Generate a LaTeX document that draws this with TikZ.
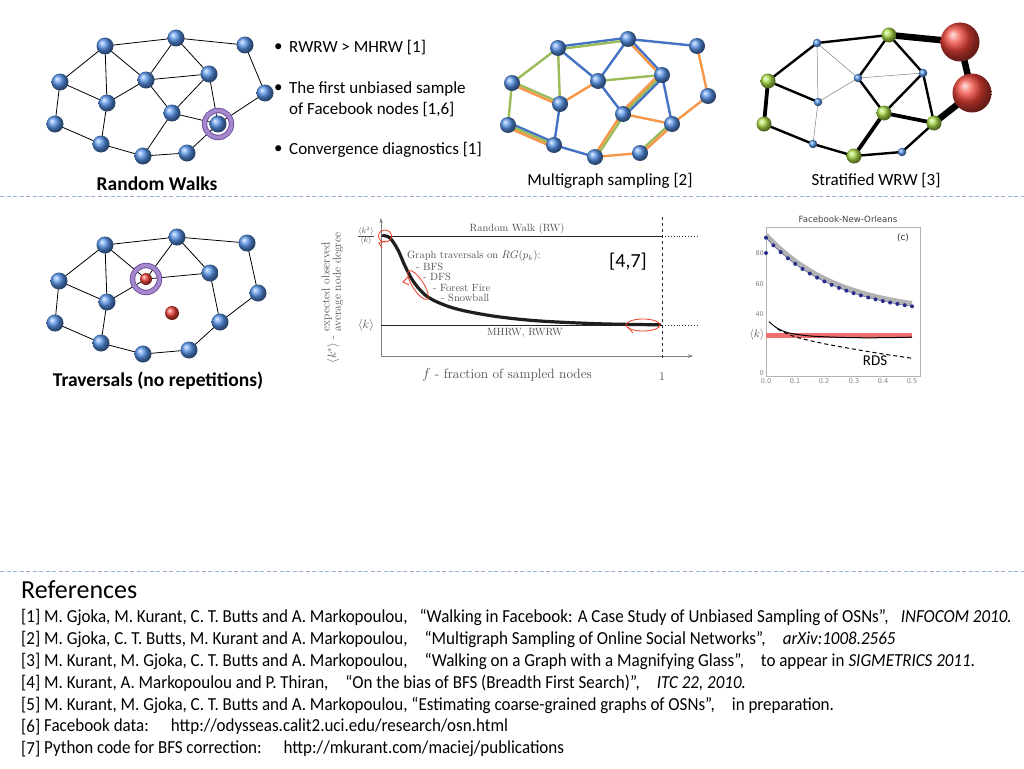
\documentclass[tikz,border=0pt]{standalone}
\usepackage{fontspec}
\newfontfamily\calib{Carlito}
\newfontfamily\dejavu{DejaVu Sans}
\usetikzlibrary{arrows.meta,calc,backgrounds}
\definecolor{nodeblue}{RGB}{85,145,230}
\definecolor{nodegreen}{RGB}{170,220,70}
\definecolor{nodered}{RGB}{235,65,55}
\definecolor{mgblue}{RGB}{68,114,196}
\definecolor{mggreen}{RGB}{155,187,89}
\definecolor{mgorange}{RGB}{247,150,70}
\definecolor{ringdark}{RGB}{110,80,155}
\definecolor{ringlight}{RGB}{165,135,205}
\definecolor{sepcol}{RGB}{150,175,205}
\definecolor{plotgray}{RGB}{80,80,80}
\definecolor{annred}{RGB}{235,60,35}
\definecolor{dotblue}{RGB}{40,45,140}
\definecolor{bandred}{RGB}{240,110,110}
\definecolor{bandgray}{RGB}{178,178,178}
\newcommand{\mge}[4]{\draw[mgline,#3] ($(#1.center)!#4!90:(#2.center)$) -- ($(#2.center)!#4!-90:(#1.center)$);}
\newcommand{\tall}[1]{\scalebox{1}[1.08]{#1}}
\newcommand{\gapA}{\hspace{12pt}}
\newcommand{\gapB}{\hspace{17pt}}
\newcommand{\gapC}{\hspace{22pt}}
\begin{document}
\begin{tikzpicture}[x=1pt,y=-1pt,
  bn/.style={circle,inner sep=0pt,minimum size=17pt,ball color=nodeblue},
  mn/.style={circle,inner sep=0pt,minimum size=16pt,ball color=nodeblue},
  sb/.style={circle,inner sep=0pt,minimum size=8.5pt,ball color=nodeblue},
  sg/.style={circle,inner sep=0pt,minimum size=15pt,ball color=nodegreen},
  sr/.style={circle,inner sep=0pt,minimum size=39pt,ball color=nodered},
  rn/.style={circle,inner sep=0pt,minimum size=#1,ball color=nodered},
  ringnode/.style={circle,inner sep=0pt,minimum size=27pt,draw=ringdark,line width=0.9pt,double=ringlight,double distance=3.6pt},
  ge/.style={black,line width=0.8pt},
  mgline/.style={line width=2.4pt},
  sthin/.style={gray,line width=0.5pt},
  smed/.style={black,line width=2.4pt},
  sthick/.style={black,line width=3.8pt},
  svthick/.style={black,line width=6.5pt},
  sepline/.style={sepcol,line width=1pt,dash pattern=on 4pt off 2.5pt},
  headtxt/.style={font=\calib\bfseries\fontsize{19.5}{22}\selectfont},
  captxt/.style={font=\calib\fontsize{17}{20}\selectfont},
  bultxt/.style={anchor=west,inner sep=0pt,font=\calib\fontsize{17}{20}\selectfont},
  reftxt/.style={anchor=west,inner sep=0pt,font=\calib\fontsize{17}{19}\selectfont},
  ptxt/.style={plotgray,inner sep=0pt},
  anno/.style={annred,line width=0.8pt},
  ticklab/.style={gray,inner sep=0pt,font=\dejavu\fontsize{6.5}{7}\selectfont}
]
\useasboundingbox (0,0) rectangle (1024,768);
\begin{scope}[on background layer]
\fill[white] (0,0) rectangle (1024,768);
\end{scope}

% separators
\draw[sepline] (0,196) -- (1024,196);
\draw[sepline] (0,571) -- (1024,571);

% ---------- Random walks graph ----------
\node[bn] (a1) at (105,46) {};
\node[bn] (b1) at (176,38) {};
\node[bn] (c1) at (245,45) {};
\node[bn] (d1) at (60,82) {};
\node[bn] (e1) at (146,80) {};
\node[bn] (f1) at (209,74) {};
\node[bn] (g1) at (107,103) {};
\node[bn] (h1) at (265,93) {};
\node[bn] (i1) at (172,113) {};
\node[bn] (j1) at (55,124) {};
\node[bn] (k1) at (218,124) {};
\node[bn] (l1) at (101,144) {};
\node[bn] (m1) at (143,156) {};
\node[bn] (n1) at (187,153) {};
\node[ringnode] (r1) at (k1) {};
\begin{scope}[on background layer]
\foreach \u/\v in {a1/b1,b1/c1,a1/d1,a1/g1,a1/e1,b1/e1,b1/f1,e1/f1,g1/e1,d1/g1,d1/j1,j1/l1,l1/g1,l1/m1,m1/i1,m1/n1,n1/k1,i1/k1,e1/i1,i1/f1,f1/k1,k1/h1,h1/c1}
  \draw[ge] (\u.center) -- (\v.center);
\end{scope}
\node[headtxt] (t1) at (157,184) {Random Walks};

% ---------- bullets ----------
\node[bultxt] (bl1) at (274,48) {•};
\node[bultxt] (bt1) at (289,48) {RWRW > MHRW [1]};
\node[bultxt] (bl2) at (274,89) {•};
\node[bultxt] (bt2) at (289,89) {The first unbiased sample};
\node[bultxt] (bt2b) at (289,110) {of Facebook nodes [1,6]};
\node[bultxt] (bl3) at (274,150) {•};
\node[bultxt] (bt3) at (289,150) {Convergence diagnostics [1]};

% ---------- Multigraph ----------
\node[mn] (a2) at (558,48) {};
\node[mn] (b2) at (628,39) {};
\node[mn] (c2) at (697,46) {};
\node[mn] (d2) at (512,83) {};
\node[mn] (e2) at (598,81) {};
\node[mn] (f2) at (662,75) {};
\node[mn] (g2) at (560,104) {};
\node[mn] (h2) at (708,96) {};
\node[mn] (i2) at (623,114) {};
\node[mn] (j2) at (508,125) {};
\node[mn] (k2) at (672,124) {};
\node[mn] (l2) at (554,145) {};
\node[mn] (m2) at (595,157) {};
\node[mn] (n2) at (640,153) {};
\begin{scope}[on background layer]
\mge{a2}{b2}{mgblue}{1.3pt}
\mge{a2}{b2}{mggreen}{-1.3pt}
\mge{b2}{c2}{mgblue}{0pt}
\mge{d2}{a2}{mggreen}{0pt}
\mge{a2}{g2}{mggreen}{0pt}
\mge{a2}{e2}{mgblue}{0pt}
\mge{b2}{e2}{mgblue}{0pt}
\mge{b2}{f2}{mgblue}{1.3pt}
\mge{b2}{f2}{mgorange}{-1.3pt}
\mge{e2}{f2}{mggreen}{0pt}
\mge{d2}{g2}{mggreen}{1.3pt}
\mge{d2}{g2}{mgorange}{-1.3pt}
\mge{g2}{e2}{mgorange}{0pt}
\mge{d2}{j2}{mggreen}{0pt}
\mge{j2}{l2}{mgblue}{2.4pt}
\mge{j2}{l2}{mggreen}{0pt}
\mge{j2}{l2}{mgorange}{-2.4pt}
\mge{g2}{l2}{mgblue}{0pt}
\mge{l2}{m2}{mgblue}{0pt}
\mge{m2}{i2}{mgorange}{1.3pt}
\mge{m2}{i2}{mggreen}{-1.3pt}
\mge{i2}{e2}{mgblue}{0pt}
\mge{i2}{f2}{mgblue}{-2.4pt}
\mge{i2}{f2}{mggreen}{0pt}
\mge{i2}{f2}{mgorange}{2.4pt}
\mge{f2}{k2}{mgblue}{0pt}
\mge{i2}{k2}{mgorange}{0pt}
\mge{m2}{n2}{mgorange}{0pt}
\mge{n2}{k2}{mggreen}{1.3pt}
\mge{n2}{k2}{mgorange}{-1.3pt}
\mge{k2}{h2}{mgorange}{0pt}
\mge{h2}{c2}{mgorange}{0pt}
\end{scope}
\node[captxt] (t2) at (610,181) {Multigraph sampling [2]};

% ---------- Stratified WRW ----------
\node[sb] (a3) at (817,43) {};
\node[sg] (b3) at (889,35) {};
\node[sr] (r3) at (960,42) {};
\node[sg] (c3) at (768,81) {};
\node[sb] (d3) at (858,78) {};
\node[sb] (e3) at (923,73) {};
\node[sr] (s3) at (972,93) {};
\node[sb] (f3) at (818,102) {};
\node[sg] (g3) at (884,113) {};
\node[sg] (h3) at (764,124) {};
\node[sg] (i3) at (934,123) {};
\node[sb] (j3) at (813,144) {};
\node[sg] (k3) at (854,156) {};
\node[sb] (l3) at (902,152) {};
\begin{scope}[on background layer]
\draw[sthin] (a3.center) -- (f3.center);
\draw[sthin] (a3.center) -- (d3.center);
\draw[sthin] (d3.center) -- (e3.center);
\draw[sthin] (f3.center) -- (d3.center);
\draw[sthin] (f3.center) -- (j3.center);
\draw[smed] (a3.center) -- (b3.center);
\draw[smed] (a3.center) -- (c3.center);
\draw[smed] (d3.center) -- (b3.center);
\draw[smed] (b3.center) -- (e3.center);
\draw[smed] (d3.center) -- (g3.center);
\draw[smed] (e3.center) -- (g3.center);
\draw[smed] (e3.center) -- (i3.center);
\draw[smed] (c3.center) -- (f3.center);
\draw[smed] (h3.center) -- (j3.center);
\draw[smed] (j3.center) -- (k3.center);
\draw[smed] (k3.center) -- (l3.center);
\draw[smed] (l3.center) -- (i3.center);
\draw[sthick] (g3.center) -- (i3.center);
\draw[sthick] (c3.center) -- (h3.center);
\draw[sthick] (k3.center) -- (g3.center);
\draw[svthick] (b3.center) -- (r3.center);
\draw[svthick] (r3.center) -- (s3.center);
\draw[svthick] (s3.center) -- (i3.center);
\end{scope}
\node[captxt] (t3) at (876,181) {Stratified WRW [3]};

% ---------- Traversals graph ----------
\node[bn] (a4) at (105,245) {};
\node[bn] (b4) at (177,237) {};
\node[bn] (c4) at (247,243) {};
\node[bn] (d4) at (59,281) {};
\node[rn=12pt] (e4) at (146,279) {};
\node[bn] (f4) at (210,273) {};
\node[bn] (g4) at (107,302) {};
\node[bn] (h4) at (258,293) {};
\node[rn=14pt] (i4) at (172,313) {};
\node[bn] (j4) at (55,323) {};
\node[bn] (k4) at (220,322) {};
\node[bn] (l4) at (101,343) {};
\node[bn] (m4) at (143,354) {};
\node[bn] (n4) at (189,350) {};
\node[ringnode] (r4) at (e4) {};
\begin{scope}[on background layer]
\foreach \u/\v in {a4/b4,b4/c4,a4/d4,a4/g4,a4/e4,b4/e4,b4/f4,e4/f4,e4/g4,d4/g4,d4/j4,j4/l4,l4/g4,l4/m4,m4/n4,n4/k4,k4/f4,k4/h4,h4/c4}
  \draw[ge] (\u.center) -- (\v.center);
\end{scope}
\node[headtxt] (t4) at (158,381) {Traversals (no repetitions)};

% ---------- Middle plot ----------
\coordinate (o) at (381,356);
\coordinate (ytop) at (381,218);
\coordinate (xend) at (693,356);
\draw[gray,line width=0.6pt,-{Stealth[length=5pt,width=3.5pt]}] (o) -- (ytop);
\draw[gray,line width=0.6pt,-{Stealth[length=5pt,width=3.5pt]}] (o) -- (xend);
\coordinate (rwL) at (381,236);
\coordinate (rwR) at (662,236);
\coordinate (rwD) at (699,236);
\coordinate (kL) at (381,325);
\coordinate (kR) at (662,325);
\coordinate (kD) at (699,325);
\coordinate (vT) at (662,217);
\coordinate (vB) at (662,358);
\draw[black!85,line width=0.9pt] (rwL) -- (rwR);
\draw[black!85,line width=0.9pt,dotted] (rwR) -- (rwD);
\draw[black!85,line width=0.9pt] (kL) -- (kR);
\draw[black!85,line width=0.9pt,dotted] (kR) -- (kD);
\draw[black!85,line width=0.8pt,dashed] (vT) -- (vB);
\draw[black!88,line width=3.2pt,line cap=round] plot[smooth,tension=0.55] coordinates {(383,235.5) (390,238) (398,250) (405,266) (413,281) (423,293) (433,300) (450,307) (470,312) (500,317) (540,321) (600,323.8) (660,324.8)};
\node[ptxt,font=\fontsize{10.5}{12}\selectfont] (rwlab) at (517,229) {Random Walk (RW)};
\node[ptxt,font=\fontsize{10.5}{12}\selectfont] (mhlab) at (525,333) {MHRW, RWRW};
\node[ptxt,anchor=west,font=\fontsize{10.5}{12}\selectfont] (gt) at (407,256) {Graph traversals on $RG(p_k)$:};
\node[ptxt,anchor=west,font=\fontsize{10.5}{12}\selectfont] (l1t) at (416,267) {- BFS};
\node[ptxt,anchor=west,font=\fontsize{10.5}{12}\selectfont] (l2t) at (423,277) {- DFS};
\node[ptxt,anchor=west,font=\fontsize{10.5}{12}\selectfont] (l3t) at (433,288) {- Forest Fire};
\node[ptxt,anchor=west,font=\fontsize{10.5}{12}\selectfont] (l4t) at (441,298) {- Snowball};
\node[ptxt,font=\fontsize{13.5}{15}\selectfont] (xlab) at (507,375) {$f$ - fraction of sampled nodes};
\node[ptxt,font=\fontsize{12}{14}\selectfont] (one) at (662,377) {1};
\node[ptxt,font=\fontsize{11}{12}\selectfont] (k2k) at (366,236) {$\frac{\langle k^2\rangle}{\langle k\rangle}$};
\node[ptxt,font=\fontsize{13}{14}\selectfont] (kk) at (366,325) {$\langle k\rangle$};
\node[ptxt,rotate=90,font=\fontsize{11.5}{11}\selectfont] (ylab) at (333,298) {$\langle k^*\rangle$ - \begin{tabular}{@{}l@{}}expected observed\\ average node degree\end{tabular}};
\node[font=\calib\fontsize{20}{22}\selectfont] (ref47) at (628,262) {[4,7]};
% red hand annotations
\draw[anno] (385,236) ellipse [x radius=6.5pt,y radius=6pt];
\draw[anno] (386,241) -- (379,243) -- (382,248);
\draw[anno,rotate around={-57:(418,285)}] (418,285) ellipse [x radius=17pt,y radius=5.5pt];
\draw[anno] (409,276) -- (403,282) -- (409,285);
\draw[anno] (643,325) ellipse [x radius=17pt,y radius=6pt];
\draw[anno] (628,327) -- (633,333);

% ---------- Right plot ----------
\node[font=\dejavu\fontsize{8.6}{10}\selectfont,black!75] (ftitle) at (848,219) {Facebook-New-Orleans};
\draw[gray!60,line width=0.5pt] (766,227) rectangle (920,376);
\begin{scope}[shift={(766,375)},x=292pt,y=1.525pt]
\fill[bandred] (0,24) rectangle (0.5,27.6);
\draw[bandgray,line width=5pt] plot[domain=0:0.5,samples=40] (\x,{39.8+52*exp(-4*\x)});
\draw[dotblue!70,line width=0.6pt] plot[domain=0:0.5,samples=40] (\x,{38+52*exp(-4*\x)});
\foreach \i in {0,...,20} \fill[dotblue] ({\i/40},{38+52*exp(-4*\i/40)}) circle (2pt);
\fill[dotblue] (0,80) circle (2pt);
\draw[black,line width=1pt] plot[smooth] coordinates {(0.01,35) (0.04,30.5) (0.08,27.5) (0.15,25.6) (0.25,24.7) (0.35,24.4) (0.45,24.6) (0.5,24.8)};
\draw[black,line width=1pt,dash pattern=on 4pt off 3pt] plot[smooth] coordinates {(0.04,30) (0.1,25) (0.2,20.5) (0.3,17) (0.4,13.8) (0.5,11)};
\end{scope}
\node[ticklab,anchor=east] (y80) at (764,253) {80};
\node[ticklab,anchor=east] (y60) at (764,284) {60};
\node[ticklab,anchor=east] (y40) at (764,314) {40};
\node[ticklab,anchor=east] (y0) at (764,373) {0};
\node[ticklab] (x0) at (766,381) {0.0};
\node[ticklab] (x1) at (795,381) {0.1};
\node[ticklab] (x2) at (824,381) {0.2};
\node[ticklab] (x3) at (854,381) {0.3};
\node[ticklab] (x4) at (883,381) {0.4};
\node[ticklab] (x5) at (912,381) {0.5};
\node[plotgray,font=\fontsize{11}{12}\selectfont] (kk2) at (757,335) {$\langle k\rangle$};
\node[font=\dejavu\fontsize{9}{10}\selectfont,black!80] (cc) at (903,238) {(c)};
\node[font=\calib\fontsize{15}{16}\selectfont] (rds) at (875,361) {RDS};

% ---------- References ----------
\node[anchor=west,inner sep=0pt,font=\calib\fontsize{26}{28}\selectfont] (refs) at (21,590) {References};
\node[reftxt] (r1a) at (21,617) {\tall{[1]}};
\node[reftxt] (r1b) at (44,617) {\tall{M. Gjoka, M. Kurant, C. T. Butts and A. Markopoulou,\gapA“Walking in Facebook: A Case Study of Unbiased Sampling of OSNs”,\gapA\textit{INFOCOM 2010.}}};
\node[reftxt] (r2a) at (21,639) {\tall{[2]}};
\node[reftxt] (r2b) at (44,639) {\tall{M. Gjoka, C. T. Butts, M. Kurant and A. Markopoulou,\gapB“Multigraph Sampling of Online Social Networks”,\gapB\textit{arXiv:1008.2565}}};
\node[reftxt] (r3a) at (21,661) {\tall{[3]}};
\node[reftxt] (r3b) at (44,661) {\tall{M. Kurant, M. Gjoka, C. T. Butts and A. Markopoulou,\gapB“Walking on a Graph with a Magnifying Glass”,\gapB to appear in \textit{SIGMETRICS 2011}.}};
\node[reftxt] (r4a) at (21,683) {\tall{[4]}};
\node[reftxt] (r4b) at (44,683) {\tall{M. Kurant, A. Markopoulou and P. Thiran,\gapB“On the bias of BFS (Breadth First Search)”,\gapB\textit{ITC 22, 2010.}}};
\node[reftxt] (r5a) at (21,705) {\tall{[5]}};
\node[reftxt] (r5b) at (44,705) {\tall{M. Kurant, M. Gjoka, C. T. Butts and A. Markopoulou, “Estimating coarse-grained graphs of OSNs”,\gapB in preparation.}};
\node[reftxt] (r6a) at (21,727) {\tall{[6]}};
\node[reftxt] (r6b) at (44,727) {\tall{Facebook data:\gapC http://odysseas.calit2.uci.edu/research/osn.html}};
\node[reftxt] (r7a) at (21,749) {\tall{[7]}};
\node[reftxt] (r7b) at (44,749) {\tall{Python code for BFS correction:\gapC http://mkurant.com/maciej/publications}};
\end{tikzpicture}
\end{document}
